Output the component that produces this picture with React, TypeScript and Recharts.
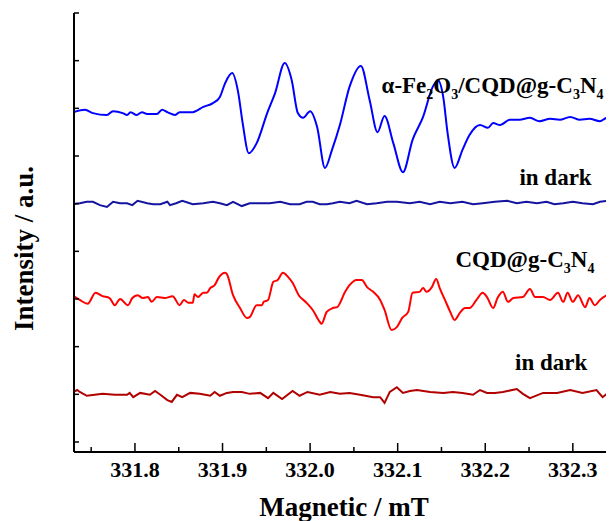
import * as React from "react";
import {
  ComposedChart,
  Line,
  XAxis,
  YAxis,
  ReferenceDot,
} from "recharts";

// field (mT) / intensity (a.u., offset per trace)
const fieldFeCqd = [331.730, 331.743, 331.752, 331.768, 331.775, 331.786, 331.791, 331.795, 331.802, 331.808, 331.814, 331.825, 331.831, 331.837, 331.846, 331.851, 331.866, 331.878, 331.889, 331.897, 331.903, 331.911, 331.918, 331.923, 331.930, 331.939, 331.951, 331.960, 331.971, 331.979, 331.986, 331.992, 332.000, 332.008, 332.017, 332.025, 332.034, 332.045, 332.058, 332.068, 332.077, 332.085, 332.095, 332.106, 332.117, 332.129, 332.140, 332.146, 332.152, 332.157, 332.165, 332.174, 332.182, 332.194, 332.203, 332.209, 332.217, 332.228, 332.239, 332.251, 332.262, 332.274, 332.285, 332.297, 332.308, 332.319, 332.331, 332.339, 332.347];
const intensityFeCqd = [6.92, 6.97, 6.90, 6.86, 6.94, 6.90, 6.86, 6.92, 6.86, 6.92, 6.88, 6.88, 6.97, 6.92, 6.86, 6.92, 6.92, 7.03, 7.11, 7.24, 7.53, 7.74, 7.32, 6.69, 6.06, 6.27, 6.90, 7.32, 7.95, 7.59, 6.90, 6.80, 6.94, 6.61, 5.75, 6.13, 6.65, 7.45, 7.89, 7.17, 6.50, 6.84, 6.27, 5.66, 6.34, 6.82, 7.45, 7.59, 7.24, 6.48, 5.75, 6.13, 6.44, 6.65, 6.59, 6.69, 6.65, 6.76, 6.76, 6.80, 6.73, 6.78, 6.76, 6.82, 6.76, 6.78, 6.73, 6.80, 6.78];

const fieldFeCqdDark = [331.730, 331.737, 331.745, 331.752, 331.760, 331.768, 331.775, 331.783, 331.791, 331.797, 331.803, 331.814, 331.821, 331.829, 331.837, 331.840, 331.847, 331.854, 331.866, 331.878, 331.889, 331.897, 331.905, 331.912, 331.922, 331.931, 331.943, 331.954, 331.966, 331.977, 331.988, 331.996, 332.003, 332.011, 332.019, 332.026, 332.034, 332.045, 332.053, 332.065, 332.076, 332.088, 332.099, 332.114, 332.125, 332.137, 332.148, 332.160, 332.174, 332.186, 332.197, 332.211, 332.225, 332.236, 332.247, 332.259, 332.270, 332.279, 332.289, 332.300, 332.311, 332.323, 332.331, 332.339, 332.347];
const intensityFeCqdDark = [4.99, 5.01, 5.04, 5.04, 4.97, 4.93, 5.04, 5.01, 5.01, 4.97, 5.06, 5.01, 4.99, 4.99, 5.04, 4.97, 5.01, 5.06, 4.99, 5.01, 5.04, 5.01, 4.97, 5.04, 4.95, 5.01, 5.01, 5.01, 5.04, 4.99, 4.99, 5.04, 5.04, 4.99, 4.99, 5.01, 5.04, 5.01, 5.06, 4.99, 5.01, 5.04, 5.04, 5.01, 5.04, 4.99, 5.04, 5.01, 5.04, 4.99, 5.01, 5.04, 5.06, 5.01, 5.04, 5.01, 5.04, 4.99, 5.01, 5.04, 5.01, 4.99, 5.04, 5.06, 5.04];

const fieldCqd = [331.730, 331.737, 331.746, 331.755, 331.763, 331.771, 331.777, 331.783, 331.792, 331.797, 331.803, 331.809, 331.815, 331.819, 331.825, 331.834, 331.843, 331.851, 331.856, 331.861, 331.866, 331.868, 331.872, 331.878, 331.882, 331.886, 331.891, 331.896, 331.903, 331.905, 331.912, 331.920, 331.928, 331.931, 331.939, 331.945, 331.947, 331.952, 331.958, 331.963, 331.969, 331.975, 331.980, 331.987, 331.996, 332.003, 332.011, 332.013, 332.019, 332.026, 332.031, 332.040, 332.045, 332.053, 332.059, 332.065, 332.072, 332.080, 332.085, 332.093, 332.099, 332.105, 332.112, 332.117, 332.125, 332.129, 332.133, 332.139, 332.144, 332.148, 332.154, 332.160, 332.165, 332.171, 332.177, 332.182, 332.190, 332.197, 332.202, 332.209, 332.214, 332.220, 332.226, 332.232, 332.243, 332.251, 332.257, 332.266, 332.274, 332.283, 332.289, 332.294, 332.300, 332.306, 332.314, 332.319, 332.325, 332.331, 332.339, 332.347];
const intensityCqd = [3.06, 2.98, 2.90, 3.13, 3.06, 3.02, 2.87, 3.00, 2.87, 3.02, 3.08, 3.02, 3.04, 2.94, 3.04, 3.02, 3.06, 2.87, 2.98, 2.92, 2.92, 3.10, 3.04, 3.13, 3.13, 3.23, 3.29, 3.46, 3.55, 3.52, 3.08, 2.81, 2.60, 2.62, 2.87, 2.87, 2.94, 2.98, 3.36, 3.40, 3.55, 3.46, 3.34, 3.08, 2.92, 2.77, 2.52, 2.48, 2.73, 2.81, 2.83, 3.15, 3.29, 3.40, 3.40, 3.25, 3.15, 2.98, 2.77, 2.35, 2.41, 2.60, 2.73, 3.13, 3.15, 3.23, 3.15, 3.25, 3.42, 3.23, 2.98, 2.73, 2.56, 2.71, 2.81, 2.81, 2.98, 3.13, 3.04, 2.81, 3.02, 3.15, 2.94, 3.02, 3.04, 3.21, 3.04, 3.04, 2.98, 3.13, 2.94, 3.13, 2.94, 3.08, 2.83, 3.02, 2.87, 2.98, 3.08, 3.13];

const fieldCqdDark = [331.730, 331.734, 331.737, 331.745, 331.754, 331.763, 331.777, 331.791, 331.794, 331.798, 331.806, 331.817, 331.823, 331.829, 331.837, 331.842, 331.848, 331.854, 331.863, 331.874, 331.886, 331.891, 331.897, 331.905, 331.912, 331.922, 331.931, 331.943, 331.952, 331.958, 331.968, 331.980, 331.988, 331.997, 332.011, 332.023, 332.034, 332.045, 332.057, 332.072, 332.080, 332.085, 332.091, 332.099, 332.106, 332.114, 332.122, 332.137, 332.152, 332.163, 332.174, 332.186, 332.194, 332.202, 332.211, 332.220, 332.236, 332.243, 332.251, 332.266, 332.282, 332.297, 332.311, 332.327, 332.334, 332.340, 332.347];
const intensityCqdDark = [1.05, 1.09, 1.05, 0.97, 0.99, 1.01, 0.99, 0.99, 1.03, 0.94, 1.03, 0.99, 1.07, 0.99, 0.88, 0.84, 0.99, 0.94, 1.03, 1.01, 0.97, 1.05, 0.97, 1.03, 1.05, 1.05, 1.01, 1.03, 0.92, 1.03, 0.90, 1.07, 0.97, 1.05, 0.99, 1.05, 1.01, 1.03, 0.99, 0.94, 0.94, 0.82, 1.05, 1.15, 1.03, 1.07, 1.09, 1.05, 1.03, 1.05, 1.03, 0.99, 1.09, 1.03, 1.03, 1.05, 1.11, 1.01, 0.92, 1.03, 1.03, 1.09, 1.03, 1.09, 0.94, 1.03, 1.03];

// axis ticks
const allFieldTicks = [331.75, 331.8, 331.85, 331.9, 331.95, 332.0, 332.05, 332.1, 332.15, 332.2, 332.25, 332.3];
const majorFieldTicks = [331.8, 331.9, 332.0, 332.1, 332.2, 332.3];
const intensityTicks = [0, 1, 2, 3, 4, 5, 6, 7, 8, 9];

// series names, "_" marks a subscript digit; anchored at (field, intensity)
const labelTexts = ["α-Fe_2O_3/CQD@g-C_3N_4", "in dark", "CQD@g-C_3N_4", "in dark"];
const labelField = [332.0816, 332.239, 332.166, 332.234];
const labelIntensity = [7.32, 5.39, 3.67, 1.51];

const FONT = "'Liberation Serif', 'Times New Roman', Times, serif";

const zip = (xs: number[], ys: number[]) => xs.map((x, i) => ({ x, y: ys[i] }));

const feCqdData = zip(fieldFeCqd, intensityFeCqd);
const feCqdDarkData = zip(fieldFeCqdDark, intensityFeCqdDark);
const cqdData = zip(fieldCqd, intensityCqd);
const cqdDarkData = zip(fieldCqdDark, intensityCqdDark);

const isMajor = (v: number) => majorFieldTicks.some((t) => Math.abs(t - v) < 1e-6);

function BottomTick(props: any) {
  const { x, y, payload } = props;
  const major = isMajor(payload.value);
  return (
    <g>
      <line x1={x} x2={x} y1={y} y2={y - (major ? 9 : 5)} stroke="#000" strokeWidth={1.5} />
      {major && (
        <text x={x} y={y + 25} textAnchor="middle" fontFamily={FONT} fontWeight="bold" fontSize={22} fill="#000">
          {payload.value.toFixed(1)}
        </text>
      )}
    </g>
  );
}

function TopTick(props: any) {
  const { x, y } = props;
  return <line x1={x} x2={x} y1={y} y2={y + 4} stroke="#000" strokeWidth={1.5} />;
}

function LeftTick(props: any) {
  const { x, y } = props;
  return <line x1={x} x2={x + 5} y1={y} y2={y} stroke="#000" strokeWidth={1.5} />;
}

// split "C_3N_4" into normal / subscript pieces
function splitLabel(text: string) {
  const segs: { s: string; sub: boolean }[] = [];
  let buf = "";
  for (let i = 0; i < text.length; i++) {
    if (text[i] === "_") {
      if (buf) segs.push({ s: buf, sub: false });
      buf = "";
      segs.push({ s: text[i + 1], sub: true });
      i++;
    } else {
      buf += text[i];
    }
  }
  if (buf) segs.push({ s: buf, sub: false });
  return segs;
}

function SeriesName({ cx, cy, text }: { cx: number; cy: number; text: string }) {
  const segs = splitLabel(text);
  return (
    <text x={cx} y={cy} fontFamily={FONT} fontWeight="bold" fontSize={23} fill="#000">
      {segs.map((seg, i) => {
        const prevSub = i > 0 && segs[i - 1].sub;
        if (seg.sub) {
          return (
            <tspan key={i} fontSize={14} dy={6}>
              {seg.s}
            </tspan>
          );
        }
        return (
          <tspan key={i} dy={prevSub ? -6 : 0}>
            {seg.s}
          </tspan>
        );
      })}
    </text>
  );
}

export default function App() {
  return (
    <ComposedChart width={606} height={513} margin={{ top: 5, right: 0, bottom: 0, left: 0 }}>
      <XAxis
        xAxisId="b"
        type="number"
        dataKey="x"
        domain={[331.7304, 332.347]}
        allowDataOverflow
        ticks={allFieldTicks}
        interval={0}
        height={69}
        tickSize={0}
        tickMargin={0}
        tick={<BottomTick />}
        axisLine={{ stroke: "#000", strokeWidth: 2 }}
        label={{
          content: (p: any) => (
            <text
              x={p.viewBox.x + p.viewBox.width / 2}
              y={p.viewBox.y + 64}
              textAnchor="middle"
              fontFamily={FONT}
              fontWeight="bold"
              fontSize={27}
              fill="#000"
            >
              Magnetic / mT
            </text>
          ),
        }}
      />
      <XAxis
        xAxisId="t"
        orientation="top"
        type="number"
        dataKey="x"
        domain={[331.7304, 332.347]}
        allowDataOverflow
        ticks={allFieldTicks}
        interval={0}
        height={0}
        tickSize={0}
        tickMargin={0}
        tick={<TopTick />}
        axisLine={{ stroke: "#000", strokeWidth: 2 }}
      />
      <YAxis
        type="number"
        domain={[-0.21, 9]}
        allowDataOverflow
        ticks={intensityTicks}
        interval={0}
        width={66}
        tickSize={0}
        tickMargin={0}
        tick={<LeftTick />}
        axisLine={{ stroke: "#000", strokeWidth: 2 }}
        label={{
          content: (p: any) => (
            <text
              transform={`translate(25, ${p.viewBox.y + p.viewBox.height / 2 + 16}) rotate(-90)`}
              textAnchor="middle"
              fontFamily={FONT}
              fontWeight="bold"
              fontSize={27}
              fill="#000"
            >
              Intensity / a.u.
            </text>
          ),
        }}
      />
      <Line xAxisId="b" data={cqdDarkData} dataKey="y" type="linear" stroke="#b00000" strokeWidth={2} dot={false} activeDot={false} isAnimationActive={false} />
      <Line xAxisId="b" data={cqdData} dataKey="y" type="monotone" stroke="#ff0000" strokeWidth={2} dot={false} activeDot={false} isAnimationActive={false} />
      <Line xAxisId="b" data={feCqdDarkData} dataKey="y" type="linear" stroke="#1414a0" strokeWidth={2} dot={false} activeDot={false} isAnimationActive={false} />
      <Line xAxisId="b" data={feCqdData} dataKey="y" type="monotone" stroke="#0000ff" strokeWidth={2} dot={false} activeDot={false} isAnimationActive={false} />
      {labelTexts.map((t, i) => (
        <ReferenceDot
          key={i}
          xAxisId="b"
          x={labelField[i]}
          y={labelIntensity[i]}
          r={0}
          ifOverflow="visible"
          shape={(p: any) => <SeriesName cx={p.cx} cy={p.cy} text={t} />}
        />
      ))}
    </ComposedChart>
  );
}
